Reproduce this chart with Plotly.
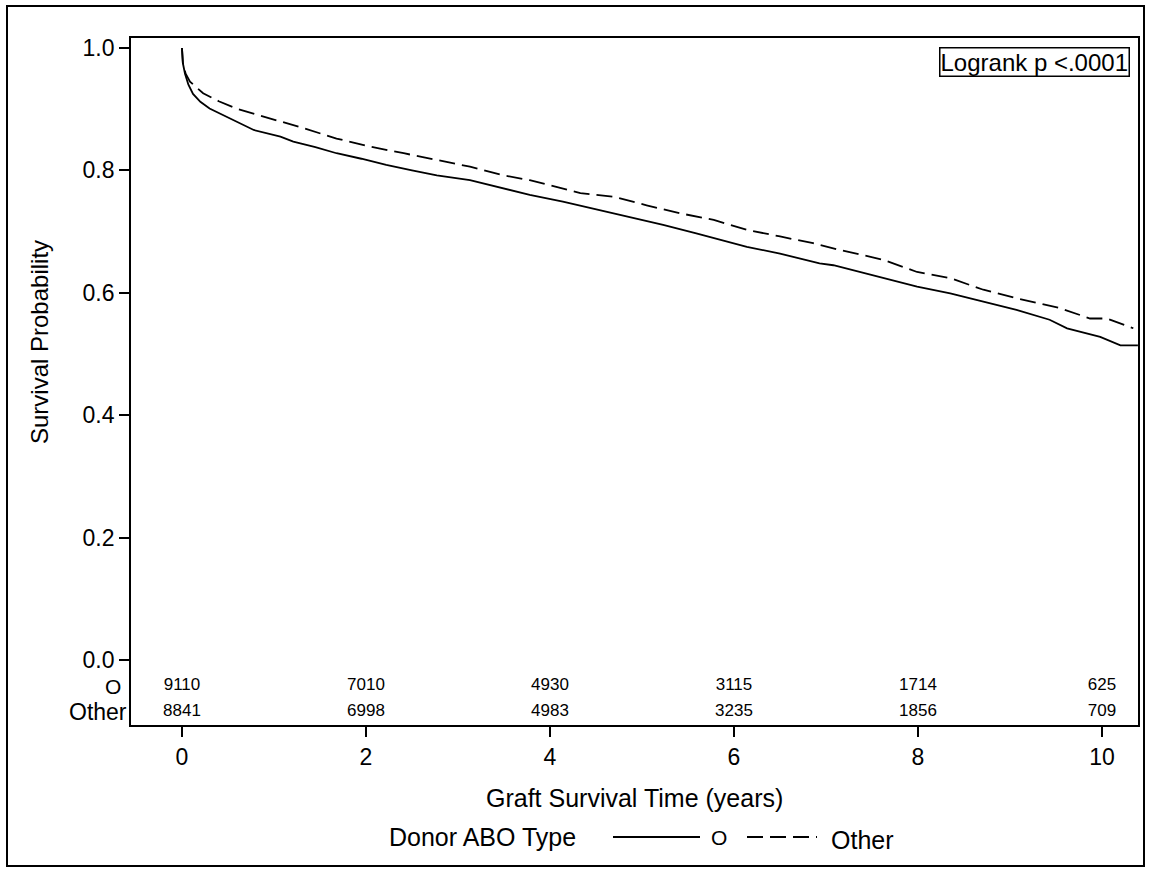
import plotly.graph_objects as go

# ---- data ----
time_o = [0, 0.01, 0.033, 0.07, 0.12, 0.2, 0.3, 0.45, 0.59, 0.78, 1.07, 1.21, 1.45, 1.68, 1.95,
          2.22, 2.5, 2.77, 3.13, 3.57, 3.78, 4.14, 4.69, 5.23, 5.59, 6.14, 6.50, 6.93, 7.08, 7.62,
          7.99, 8.35, 8.71, 9.07, 9.43, 9.62, 9.98, 10.2, 10.39]
surv_o = [1.0, 0.975, 0.958, 0.940, 0.925, 0.912, 0.901, 0.890, 0.880, 0.866, 0.855, 0.847, 0.838,
          0.828, 0.819, 0.809, 0.800, 0.792, 0.784, 0.768, 0.760, 0.749, 0.730, 0.711, 0.697, 0.675,
          0.664, 0.648, 0.645, 0.624, 0.610, 0.599, 0.585, 0.572, 0.556, 0.542, 0.528, 0.514, 0.514]

time_other = [0, 0.01, 0.04, 0.087, 0.23, 0.4, 0.59, 0.96, 1.32, 1.68, 2.04, 2.41, 2.77, 3.13,
              3.49, 3.78, 4.33, 4.69, 5.05, 5.41, 5.78, 6.14, 6.50, 6.86, 7.15, 7.62, 7.99, 8.35,
              8.71, 9.07, 9.54, 9.87, 10.05, 10.34]
surv_other = [1.0, 0.975, 0.958, 0.945, 0.926, 0.913, 0.901, 0.885, 0.869, 0.852, 0.839, 0.828,
              0.817, 0.806, 0.792, 0.784, 0.763, 0.757, 0.743, 0.730, 0.719, 0.703, 0.692, 0.681,
              0.670, 0.654, 0.634, 0.624, 0.605, 0.591, 0.575, 0.558, 0.558, 0.542]

risk_times = [0, 2, 4, 6, 8, 10]
risk_o = [9110, 7010, 4930, 3115, 1714, 625]
risk_other = [8841, 6998, 4983, 3235, 1856, 709]
risk_y = {"O": -0.0425, "Other": -0.085}

x_ticks = [0, 2, 4, 6, 8, 10]
y_ticks = [0.0, 0.2, 0.4, 0.6, 0.8, 1.0]

FONT = "Liberation Sans, Arial, sans-serif"
DASH = "16px,7px"

fig = go.Figure()
fig.add_trace(go.Scatter(x=time_o, y=surv_o, mode="lines", name="O",
                         line=dict(color="black", width=1.8), showlegend=False))
fig.add_trace(go.Scatter(x=time_other, y=surv_other, mode="lines", name="Other",
                         line=dict(color="black", width=1.8, dash=DASH), showlegend=False))
# at-risk table
fig.add_trace(go.Scatter(x=risk_times, y=[risk_y["O"]] * len(risk_times), mode="text",
                         text=[str(v) for v in risk_o], textfont=dict(size=17, color="black", family=FONT),
                         showlegend=False, hoverinfo="skip"))
fig.add_trace(go.Scatter(x=risk_times, y=[risk_y["Other"]] * len(risk_times), mode="text",
                         text=[str(v) for v in risk_other], textfont=dict(size=17, color="black", family=FONT),
                         showlegend=False, hoverinfo="skip"))

L, R, T, B = 131, 13, 38, 146
W, H = 1151, 871
pw, ph = W - L - R, H - T - B

def px(xp):
    return (xp - L) / pw

def py(yp):
    return (H - B - yp) / ph

fig.update_layout(
    width=W, height=H,
    margin=dict(l=L, r=R, t=T, b=B, autoexpand=False),
    paper_bgcolor="white", plot_bgcolor="white",
    font=dict(family=FONT, color="black", size=23),
    xaxis=dict(range=[-0.554, 10.391], tickvals=x_ticks, ticks="outside", ticklen=10,
               tickwidth=1.5, tickcolor="black", showline=True, linecolor="black", linewidth=1.8,
               mirror=True, showgrid=False, zeroline=False, tickfont=dict(size=23)),
    yaxis=dict(range=[-0.1062, 1.0163], tickvals=y_ticks, tickformat=".1f", ticks="outside",
               ticklen=10, tickwidth=1.5, tickcolor="black", showline=True, linecolor="black",
               linewidth=1.8, mirror=True, showgrid=False, zeroline=False, tickfont=dict(size=23)),
    showlegend=False,
)

ann = []
# axis titles
ann.append(dict(text="Graft Survival Time (years)", x=px(634), y=py(798), xref="paper", yref="paper",
                xanchor="center", yanchor="middle", showarrow=False, font=dict(size=25)))
ann.append(dict(text="Survival Probability", x=px(40), y=py(342), xref="paper", yref="paper",
                xanchor="center", yanchor="middle", showarrow=False, textangle=-90, font=dict(size=24)))
# at-risk row labels
ann.append(dict(text="O", x=px(123), y=risk_y["O"], xref="paper", yref="y", xanchor="right",
                yanchor="middle", showarrow=False, font=dict(size=21)))
ann.append(dict(text="Other", x=px(129), y=risk_y["Other"], xref="paper", yref="y", xanchor="right",
                yanchor="middle", showarrow=False, font=dict(size=23)))
# logrank box
ann.append(dict(text="Logrank p <.0001", x=px(1130), y=py(47), xref="paper", yref="paper",
                xanchor="right", yanchor="top", showarrow=False, bordercolor="black", borderwidth=1.5,
                borderpad=0, font=dict(size=24)))
# legend
ann.append(dict(text="Donor ABO Type", x=px(387), y=py(837), xref="paper", yref="paper",
                xanchor="left", yanchor="middle", showarrow=False, font=dict(size=25)))
ann.append(dict(text="O", x=px(719), y=py(837), xref="paper", yref="paper",
                xanchor="center", yanchor="middle", showarrow=False, font=dict(size=21)))
ann.append(dict(text="Other", x=px(829), y=py(840), xref="paper", yref="paper", xanchor="left",
                yanchor="middle", showarrow=False, font=dict(size=25)))
fig.update_layout(annotations=ann)

shapes = []
# outer frame
shapes.append(dict(type="rect", xref="paper", yref="paper", x0=px(7), x1=px(1144), y0=py(866), y1=py(6),
                   line=dict(color="black", width=2), layer="below"))
# legend samples
shapes.append(dict(type="line", xref="paper", yref="paper", x0=px(613), x1=px(700), y0=py(837), y1=py(837),
                   line=dict(color="black", width=1.8)))
shapes.append(dict(type="line", xref="paper", yref="paper", x0=px(747), x1=px(817), y0=py(837), y1=py(837),
                   line=dict(color="black", width=1.8, dash=DASH)))
fig.update_layout(shapes=shapes)

fig.write_html("out.html")
